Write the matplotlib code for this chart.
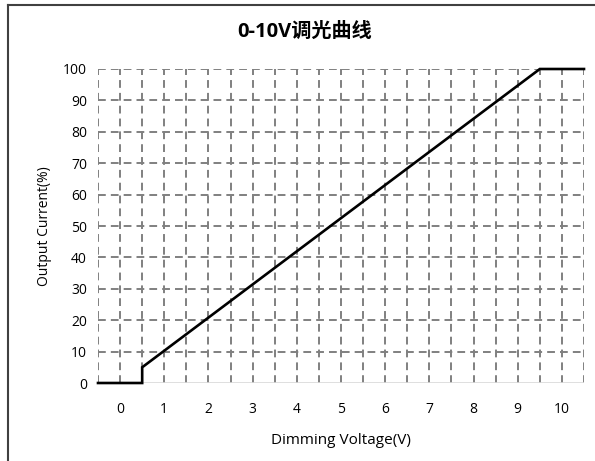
import matplotlib
matplotlib.use("Agg")
import matplotlib.pyplot as plt
from matplotlib.lines import Line2D
import numpy as np

plt.rcParams['font.family'] = ['Open Sans', 'Noto Sans CJK SC', 'DejaVu Sans']

# Data
voltage = [-0.5, 0.5, 0.5, 9.5, 10.5]
current = [0, 0, 5, 100, 100]
x_ticks = [0, 1, 2, 3, 4, 5, 6, 7, 8, 9, 10]
y_ticks = [0, 10, 20, 30, 40, 50, 60, 70, 80, 90, 100]
title = "0-10V调光曲线"
xlabel = "Dimming Voltage(V)"
ylabel = "Output Current(%)"

fig = plt.figure(figsize=(5.95, 4.61), dpi=100)
ax = fig.add_axes([98/595, 1-383/461, (584-98)/595, (383-69)/461])

ax.set_xlim(-0.5, 10.5)
ax.set_ylim(0, 100)

grid_kw = dict(color='#808080', lw=1.4, dashes=(4.0, 2.6), zorder=1)
for xv in np.arange(-0.5, 10.51, 0.5):
    ax.axvline(xv, **grid_kw)
for yv in y_ticks[1:]:
    ax.axhline(yv, **grid_kw)
ax.axhline(0, color='#d9d9d9', lw=1.2, zorder=1)

ax.plot(voltage, current, color='black', lw=1.9, zorder=3, solid_joinstyle='miter', clip_on=False)

for s in ax.spines.values():
    s.set_visible(False)
ax.set_xticks(x_ticks)
ax.set_yticks(y_ticks)
ax.tick_params(length=0, labelsize=10, colors='black')
ax.tick_params(axis='x', pad=14)
ax.tick_params(axis='y', pad=8)

ax.set_xlabel(xlabel, fontsize=11, labelpad=11)
ax.set_ylabel(ylabel, fontsize=10, labelpad=8)
fig.text(305/595, 1-32/461, title, fontsize=14.5, fontweight='bold', ha='center', va='center')

# outer frame
fig.add_artist(Line2D([8/595, 8/595], [0, 1-5/461], color='#404040', lw=1.5, transform=fig.transFigure))
fig.add_artist(Line2D([8/595, 1], [1-5/461, 1-5/461], color='#404040', lw=1.5, transform=fig.transFigure))

fig.savefig("out.png", dpi=100)
